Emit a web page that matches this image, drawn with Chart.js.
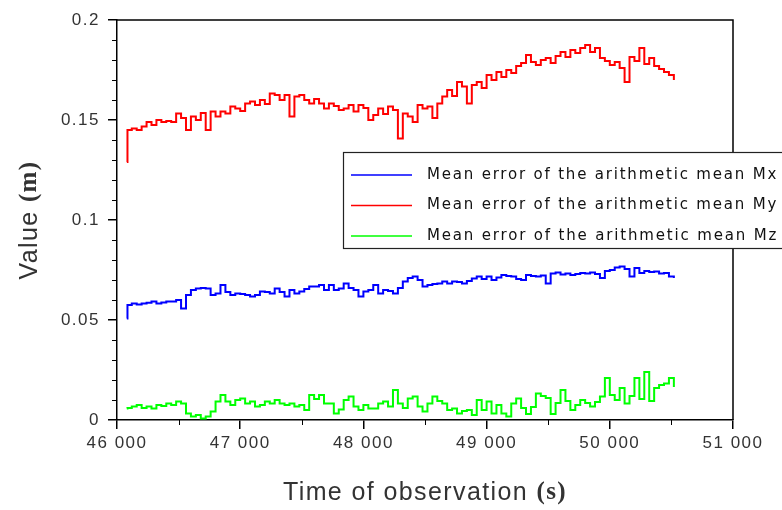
<!DOCTYPE html>
<html>
<head>
<meta charset="utf-8">
<script src="https://cdn.jsdelivr.net/npm/chart.js@4/dist/chart.umd.min.js"></script>
<style>
  html, body { margin: 0; padding: 0; background: #fff; }
  #wrap { width: 782px; height: 510px; }
</style>
</head>
<body>
<div id="wrap"><canvas id="chart" width="782" height="510"></canvas></div>
<script>
// time of observation (s)
const times = [
  46080, 46085,
  46120, 46160, 46200, 46240, 46280, 46320, 46360, 46400, 46440, 46480,
  46520, 46560, 46600, 46640, 46680, 46720, 46760, 46800, 46840, 46880,
  46920, 46960, 47000, 47040, 47080, 47120, 47160, 47200, 47240, 47280,
  47320, 47360, 47400, 47440, 47480, 47520, 47560, 47600, 47640, 47680,
  47720, 47760, 47800, 47840, 47880, 47920, 47960, 48000, 48040, 48080,
  48120, 48160, 48200, 48240, 48280, 48320, 48360, 48400, 48440, 48480,
  48520, 48560, 48600, 48640, 48680, 48720, 48760, 48800, 48840, 48880,
  48920, 48960, 49000, 49040, 49080, 49120, 49160, 49200, 49240, 49280,
  49320, 49360, 49400, 49440, 49480, 49520, 49560, 49600, 49640, 49680,
  49720, 49760, 49800, 49840, 49880, 49920, 49960, 50000, 50040, 50080,
  50120, 50160, 50200, 50240, 50280, 50320, 50360, 50400, 50440, 50480,
  50520
];

// mean error Mx (m)
const mx = [
  0.0508, 0.0575,
  0.0583, 0.0578, 0.0583, 0.0586, 0.0592, 0.0583, 0.0588, 0.0592, 0.0592, 0.060,
  0.0558, 0.0625, 0.065, 0.0658, 0.066, 0.0658, 0.0625, 0.0633, 0.0675, 0.064,
  0.0625, 0.0633, 0.063, 0.0625, 0.0617, 0.0625, 0.0642, 0.064, 0.0633, 0.0658,
  0.064, 0.0617, 0.065, 0.0633, 0.0642, 0.0655, 0.0667, 0.0667, 0.0675, 0.065,
  0.0675, 0.065, 0.0658, 0.0683, 0.066, 0.065, 0.0617, 0.0642, 0.065, 0.0675,
  0.0633, 0.065, 0.0645, 0.0633, 0.066, 0.0692, 0.071, 0.0717, 0.070, 0.0667,
  0.0675, 0.068, 0.0683, 0.0692, 0.0683, 0.0692, 0.069, 0.0683, 0.0695, 0.0708,
  0.0717, 0.0705, 0.0717, 0.070, 0.0712, 0.0725, 0.072, 0.0717, 0.0705, 0.070,
  0.0725, 0.072, 0.0717, 0.0722, 0.0683, 0.0733, 0.0738, 0.0728, 0.0733, 0.0725,
  0.073, 0.0735, 0.0733, 0.0738, 0.073, 0.071, 0.0745, 0.075, 0.0762, 0.0767,
  0.0755, 0.0717, 0.076, 0.0735, 0.0745, 0.074, 0.0742, 0.0733, 0.0735, 0.0717,
  0.071
];

// mean error My (m)
const my = [
  0.129, 0.145,
  0.1458, 0.145, 0.1467, 0.149, 0.1475, 0.150, 0.149, 0.1495, 0.149, 0.1533,
  0.151, 0.145, 0.1517, 0.150, 0.1535, 0.145, 0.1542, 0.1517, 0.1542, 0.1533,
  0.1567, 0.1558, 0.1545, 0.1583, 0.1592, 0.1575, 0.160, 0.158, 0.1633, 0.1625,
  0.160, 0.1625, 0.1517, 0.1617, 0.1625, 0.160, 0.1583, 0.1605, 0.1583, 0.1558,
  0.1583, 0.157, 0.155, 0.1558, 0.1575, 0.1542, 0.1575, 0.156, 0.150, 0.1525,
  0.1558, 0.153, 0.1567, 0.155, 0.1408, 0.1533, 0.1517, 0.149, 0.1575, 0.1558,
  0.1567, 0.151, 0.1583, 0.1617, 0.165, 0.162, 0.169, 0.1667, 0.1583, 0.1675,
  0.169, 0.166, 0.1725, 0.170, 0.174, 0.1715, 0.175, 0.1735, 0.177, 0.1785,
  0.1825, 0.179, 0.1775, 0.180, 0.181, 0.1785, 0.182, 0.184, 0.1815, 0.185,
  0.1835, 0.186, 0.1875, 0.184, 0.186, 0.181, 0.1795, 0.1775, 0.179, 0.176,
  0.169, 0.1815, 0.1795, 0.186, 0.178, 0.181, 0.177, 0.1755, 0.174, 0.1725,
  0.170
];

// mean error Mz (m)
const mz = [
  0.0058, 0.006,
  0.0067, 0.0075, 0.006, 0.0067, 0.0058, 0.0075, 0.007, 0.0083, 0.0075, 0.0092,
  0.0083, 0.0033, 0.0017, 0.0025, 0.0008, 0.0017, 0.0042, 0.0092, 0.0125, 0.0092,
  0.0075, 0.010, 0.0108, 0.0083, 0.0092, 0.0067, 0.0075, 0.0092, 0.0083, 0.010,
  0.0083, 0.0075, 0.0083, 0.0067, 0.0075, 0.005, 0.0125, 0.0105, 0.0125, 0.0083,
  0.0083, 0.0033, 0.0052, 0.010, 0.0117, 0.0067, 0.005, 0.0075, 0.0058, 0.0058,
  0.0083, 0.0092, 0.0067, 0.015, 0.0083, 0.006, 0.0108, 0.0117, 0.0067, 0.0042,
  0.0083, 0.0117, 0.0095, 0.0083, 0.005, 0.0058, 0.0033, 0.0045, 0.005, 0.0025,
  0.010, 0.005, 0.0092, 0.0033, 0.0075, 0.0033, 0.0017, 0.0083, 0.0108, 0.006,
  0.003, 0.0065, 0.0133, 0.012, 0.011, 0.003, 0.0085, 0.015, 0.0095, 0.005,
  0.0075, 0.010, 0.0085, 0.0067, 0.009, 0.0117, 0.021, 0.0125, 0.010, 0.016,
  0.0083, 0.012, 0.021, 0.0105, 0.024, 0.0095, 0.016, 0.0175, 0.0183, 0.021,
  0.0165
];

const seriesLabels = [
  "Mean error of the arithmetic mean Mx",
  "Mean error of the arithmetic mean My",
  "Mean error of the arithmetic mean Mz"
];
const xTicks = [46000, 47000, 48000, 49000, 50000, 51000];
const yTicks = [0, 0.05, 0.1, 0.15, 0.2];

const COLORS = { mx: "#0000FF", my: "#FF0000", mz: "#00FF00", axis: "#000", text: "#333" };

const toPoints = (vals) => times.map((t, i) => ({ x: t, y: vals[i] }));

const lineDs = (label, vals, color) => ({
  label: label,
  data: toPoints(vals),
  borderColor: color,
  backgroundColor: color,
  borderWidth: 2,
  pointRadius: 0,
  stepped: true,
  fill: false,
});

// frame, minor ticks, axis titles and the boxed legend
const decorations = {
  id: "decorations",
  beforeDraw(chart) {
    chart.ctx.letterSpacing = "1.5px";
  },
  afterDraw(chart) {
    const ctx = chart.ctx;
    const a = chart.chartArea;
    const xs = chart.scales.x, ys = chart.scales.y;
    ctx.save();
    ctx.letterSpacing = "0px";

    // top / right frame
    ctx.strokeStyle = COLORS.axis;
    ctx.lineWidth = 1.5;
    ctx.beginPath();
    ctx.moveTo(a.left, a.top);
    ctx.lineTo(a.right, a.top);
    ctx.lineTo(a.right, a.bottom);
    ctx.stroke();

    // minor ticks
    ctx.lineWidth = 1;
    ctx.beginPath();
    for (let v = 0.01; v < 0.2; v += 0.01) {
      if (Math.abs(v / 0.05 - Math.round(v / 0.05)) < 1e-6) continue;
      const py = Math.round(ys.getPixelForValue(v)) + 0.5;
      ctx.moveTo(a.left, py);
      ctx.lineTo(a.left - 5, py);
    }
    for (let v = 46500; v < 51000; v += 1000) {
      const px = Math.round(xs.getPixelForValue(v)) + 0.5;
      ctx.moveTo(px, a.bottom);
      ctx.lineTo(px, a.bottom + 5);
    }
    ctx.stroke();

    // axis titles
    const plainFont = "25px 'Liberation Sans', Arial, sans-serif";
    const boldFont = "bold 25px 'Liberation Serif', 'Times New Roman', serif";
    const drawMixed = (plain, bold, cx, cy) => {
      ctx.letterSpacing = "1.4px";
      ctx.font = plainFont;
      const w1 = ctx.measureText(plain).width;
      ctx.font = boldFont;
      const w2 = ctx.measureText(bold).width;
      const x0 = cx - (w1 + w2) / 2;
      ctx.fillStyle = COLORS.text;
      ctx.textBaseline = "middle";
      ctx.textAlign = "left";
      ctx.font = plainFont;
      ctx.fillText(plain, x0, cy);
      ctx.font = boldFont;
      ctx.fillText(bold, x0 + w1, cy);
    };
    drawMixed("Time of observation ", "(s)", (a.left + a.right) / 2, 493);
    ctx.save();
    ctx.translate(30, (a.top + a.bottom) / 2);
    ctx.rotate(-Math.PI / 2);
    drawMixed("Value ", "(m)", 0, 0);
    ctx.restore();

    // legend
    const box = { x: 343.5, y: 152.5, w: 460, h: 96 };
    ctx.fillStyle = "#fff";
    ctx.fillRect(box.x, box.y, box.w, box.h);
    ctx.strokeStyle = "#222";
    ctx.lineWidth = 1.2;
    ctx.strokeRect(box.x, box.y, box.w, box.h);
    ctx.font = "15px 'DejaVu Sans', sans-serif";
    chart.data.datasets.forEach((ds, i) => {
      const cy = 175 + i * 30.5;
      ctx.strokeStyle = ds.borderColor;
      ctx.lineWidth = 1.6;
      ctx.beginPath();
      ctx.moveTo(351, cy);
      ctx.lineTo(412, cy);
      ctx.stroke();
      ctx.letterSpacing = "0px";
      const w = ctx.measureText(ds.label).width;
      const ls = (351 - w) / ds.label.length;
      ctx.letterSpacing = ls.toFixed(2) + "px";
      ctx.fillStyle = "#111";
      ctx.textBaseline = "middle";
      ctx.textAlign = "left";
      ctx.fillText(ds.label, 427, cy);
    });
    ctx.restore();
  }
};

new Chart(document.getElementById("chart"), {
  type: "line",
  data: {
    datasets: [
      lineDs(seriesLabels[0], mx, COLORS.mx),
      lineDs(seriesLabels[1], my, COLORS.my),
      lineDs(seriesLabels[2], mz, COLORS.mz),
    ],
  },
  options: {
    responsive: false,
    animation: false,
    devicePixelRatio: 1,
    layout: { padding: { top: 20, right: 49, left: 0, bottom: 0 } },
    scales: {
      x: {
        type: "linear",
        min: 46000,
        max: 51000,
        afterBuildTicks: (s) => { s.ticks = xTicks.map(v => ({ value: v })); },
        afterFit: (s) => { s.height = 90; },
        grid: { drawOnChartArea: false, drawTicks: true, tickLength: 9, color: COLORS.axis, lineWidth: 1.5 },
        border: { display: true, color: COLORS.axis, width: 1.5 },
        ticks: {
          color: COLORS.text,
          padding: 4,
          maxRotation: 0,
          font: { family: "'Liberation Sans', Arial, sans-serif", size: 17 },
          callback: (v) => String(v).replace(/(\d{2})(\d{3})/, "$1 $2"),
        },
      },
      y: {
        min: 0,
        max: 0.2,
        afterBuildTicks: (s) => { s.ticks = yTicks.map(v => ({ value: v })); },
        afterFit: (s) => { s.width = 117; },
        grid: { drawOnChartArea: false, drawTicks: true, tickLength: 9, color: COLORS.axis, lineWidth: 1.5 },
        border: { display: true, color: COLORS.axis, width: 1.5 },
        ticks: {
          color: COLORS.text,
          padding: 8,
          font: { family: "'Liberation Sans', Arial, sans-serif", size: 17 },
          callback: (v) => String(+v.toFixed(2)),
        },
      },
    },
    plugins: {
      legend: { display: false },
      tooltip: { enabled: false },
    },
  },
  plugins: [decorations],
});
</script>
</body>
</html>
